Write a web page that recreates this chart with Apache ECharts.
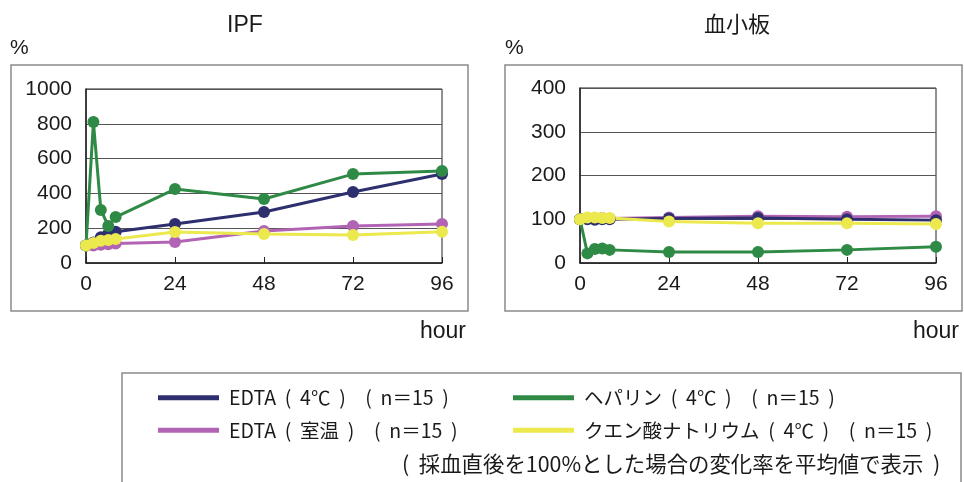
<!DOCTYPE html>
<html>
<head>
<meta charset="utf-8">
<script src="https://cdn.jsdelivr.net/npm/echarts@6/dist/echarts.min.js"></script>
<style>
  html, body { margin: 0; padding: 0; background: #fff; }
  #chart { width: 964px; height: 482px; }
</style>
</head>
<body>
<div id="chart"></div>
<script>
// Sampling times (hours after blood collection)
const hours = [0, 2, 4, 6, 8, 24, 48, 72, 96];
const xTicks = [0, 24, 48, 72, 96];

// IPF change rate (%), mean values
const ipfEdta4 = [100, 118, 148, 168, 180, 224, 293, 408, 511];
const ipfHeparin = [100, 810, 305, 213, 264, 425, 368, 511, 529];
const ipfEdtaRT = [100, 100, 105, 108, 112, 121, 184, 213, 224];
const ipfCitrate = [100, 115, 128, 132, 138, 178, 167, 161, 180];

// Platelet change rate (%), mean values
const pltEdta4 = [100, 100, 99, 100, 100, 102, 103, 100, 98];
const pltHeparin = [100, 22, 32, 33, 30, 25, 25, 30, 37];
const pltEdtaRT = [100, 102, 102, 103, 102, 104, 107, 106, 107];
const pltCitrate = [100, 104, 104, 103, 103, 95, 91, 91, 89];

const names = {
  edta4: 'EDTA  (  4℃  )　(  n＝15  )',
  heparin: 'ヘパリン  (  4℃  )　(  n＝15  )',
  edtaRT: 'EDTA  (  室温  )　(  n＝15  )',
  citrate: 'クエン酸ナトリウム  (  4℃  )　(  n＝15  )'
};
const colors = {
  edta4: '#2e2f6f',
  heparin: '#2f8a46',
  edtaRT: '#b264b4',
  citrate: '#ece94f'
};

const LATIN = '"Liberation Sans", Arial, sans-serif';
const CJK = '"Noto Sans CJK JP", "Liberation Sans", sans-serif';

function pairs(vals) {
  return hours.map((h, i) => [h, vals[i]]);
}

function line(key, vals, gridIndex) {
  return {
    name: names[key],
    type: 'line',
    xAxisIndex: gridIndex,
    yAxisIndex: gridIndex,
    data: pairs(vals),
    symbol: 'circle',
    symbolSize: 12,
    showSymbol: true,
    lineStyle: { width: 3, color: colors[key] },
    itemStyle: { color: colors[key] },
    animation: false
  };
}

function xAxis(gridIndex) {
  return {
    type: 'value',
    gridIndex: gridIndex,
    min: xTicks[0],
    max: xTicks[xTicks.length - 1],
    interval: 24,
    axisLine: { lineStyle: { color: '#222', width: 1.5 } },
    axisTick: { show: true, inside: true, length: 6, lineStyle: { color: '#222' } },
    axisLabel: { fontFamily: LATIN, fontSize: 21, color: '#1a1a1a', margin: 11 },
    splitLine: { show: false }
  };
}

function yAxis(gridIndex, max, interval) {
  return {
    type: 'value',
    gridIndex: gridIndex,
    min: 0,
    max: max,
    interval: interval,
    axisLine: { show: true, lineStyle: { color: '#222', width: 1.5 } },
    axisTick: { show: false },
    axisLabel: { fontFamily: LATIN, fontSize: 21, color: '#1a1a1a', margin: 14,
      formatter: v => String(v) },
    splitLine: { show: true, lineStyle: { color: '#555', width: 1 } }
  };
}

const legendText = { fontFamily: CJK, fontSize: 19.5, color: '#1a1a1a', padding: [0, 0, 0, 5] };

const chart = echarts.init(document.getElementById('chart'), null, { renderer: 'canvas' });

chart.setOption({
  backgroundColor: '#fff',
  animation: false,
  title: [
    { text: 'IPF', left: 240, top: 9, textAlign: 'center',
      textStyle: { fontFamily: LATIN, fontSize: 23, fontWeight: 'normal', color: '#1a1a1a' } },
    { text: '血小板', left: 732, top: 8, textAlign: 'center',
      textStyle: { fontFamily: CJK, fontSize: 22, fontWeight: 'normal', color: '#1a1a1a' } }
  ],
  grid: [
    { left: 86, top: 89, width: 356, height: 174, show: true, borderColor: '#222', borderWidth: 1 },
    { left: 580, top: 88, width: 356, height: 175, show: true, borderColor: '#222', borderWidth: 1 }
  ],
  xAxis: [xAxis(0), xAxis(1)],
  yAxis: [yAxis(0, 1000, 200), yAxis(1, 400, 100)],
  legend: [
    {
      data: [names.edta4, names.edtaRT],
      orient: 'vertical',
      left: 153, top: 383,
      itemWidth: 61, itemHeight: 5, itemGap: 13,
      icon: 'rect',
      selectedMode: false,
      textStyle: legendText
    },
    {
      data: [names.heparin, names.citrate],
      orient: 'vertical',
      left: 508, top: 383,
      itemWidth: 61, itemHeight: 5, itemGap: 13,
      icon: 'rect',
      selectedMode: false,
      textStyle: legendText
    }
  ],
  graphic: [
    { type: 'rect', shape: { x: 11, y: 65, width: 457, height: 246 },
      style: { fill: 'none', stroke: '#8a8a8a', lineWidth: 1.5 }, z: -1 },
    { type: 'rect', shape: { x: 505, y: 65, width: 457, height: 246 },
      style: { fill: 'none', stroke: '#8a8a8a', lineWidth: 1.5 }, z: -1 },
    { type: 'rect', shape: { x: 122, y: 373, width: 839, height: 130 },
      style: { fill: 'none', stroke: '#8a8a8a', lineWidth: 1.5 }, z: -1 },
    { type: 'text', left: 10, top: 38,
      style: { text: '%', font: '21px ' + LATIN, fill: '#1a1a1a' } },
    { type: 'text', left: 505, top: 38,
      style: { text: '%', font: '21px ' + LATIN, fill: '#1a1a1a' } },
    { type: 'text', left: 420, top: 320,
      style: { text: 'hour', font: '23px ' + LATIN, fill: '#1a1a1a' } },
    { type: 'text', left: 913, top: 320,
      style: { text: 'hour', font: '23px ' + LATIN, fill: '#1a1a1a' } },
    { type: 'text', left: 402, top: 453,
      style: { text: '(  採血直後を100%とした場合の変化率を平均値で表示  )', font: '21.4px ' + CJK, fill: '#1a1a1a' } }
  ],
  series: [
    line('edtaRT', ipfEdtaRT, 0),
    line('edta4', ipfEdta4, 0),
    line('heparin', ipfHeparin, 0),
    line('citrate', ipfCitrate, 0),
    line('edtaRT', pltEdtaRT, 1),
    line('edta4', pltEdta4, 1),
    line('heparin', pltHeparin, 1),
    line('citrate', pltCitrate, 1)
  ]
});
</script>
</body>
</html>
